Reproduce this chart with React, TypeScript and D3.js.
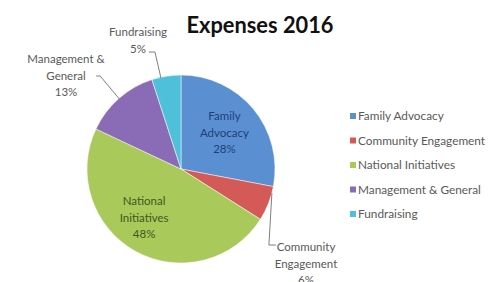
import React, { useEffect, useRef } from 'react';
import * as d3 from 'd3';

const categories = ['Family Advocacy', 'Community Engagement', 'National Initiatives', 'Management & General', 'Fundraising'];
const values = [28, 6, 48, 13, 5];
const colors = ['#5a8fd2', '#d45a58', '#a9c95b', '#8a6cb6', '#4fc0d9'];

// label text lines for each slice
const labelLines = [
  ['Family', 'Advocacy', '28%'],
  ['Community', 'Engagement', '6%'],
  ['National', 'Initiatives', '48%'],
  ['Management &', 'General', '13%'],
  ['Fundraising', '5%'],
];

const App = () => {
  const ref = useRef<SVGSVGElement>(null);

  useEffect(() => {
    const svg = d3.select(ref.current);
    svg.selectAll('*').remove();

    const cx = 181, cy = 169, r = 94;
    const font = 'Lato, "Liberation Sans", sans-serif';

    svg.append('text')
      .attr('x', 260)
      .attr('y', 33)
      .attr('text-anchor', 'middle')
      .attr('font-family', font)
      .attr('font-weight', 'bold')
      .attr('font-size', 22)
      .attr('fill', '#111')
      .attr('textLength', 147)
      .attr('lengthAdjust', 'spacingAndGlyphs')
      .text('Expenses 2016');

    const data = categories.map((c, i) => ({ name: c, value: values[i], i }));
    const pie = d3.pie<any>().value(d => d.value).sort(null);
    const arcs = pie(data);
    const arc = d3.arc<any>().innerRadius(0).outerRadius(r);

    const g = svg.append('g').attr('transform', `translate(${cx},${cy})`);

    g.selectAll('path')
      .data(arcs)
      .enter()
      .append('path')
      .attr('d', arc)
      .attr('fill', d => colors[d.data.i])
      .attr('stroke', '#ffffff')
      .attr('stroke-width', 0.5);

    const polar = (a: number, rr: number) => [rr * Math.sin(a), -rr * Math.cos(a)];
    const mid = (d: any) => (d.startAngle + d.endAngle) / 2;

    const drawLabel = (lines: string[], x: number, y: number, fill: string) => {
      const t = g.append('text')
        .attr('text-anchor', 'middle')
        .attr('font-family', font)
        .attr('font-size', 11.5)
        .attr('fill', fill);
      lines.forEach((l, k) => {
        t.append('tspan').attr('x', x).attr('y', y + k * 16.5).text(l);
      });
    };

    // inside labels
    const [fx, fy] = polar(mid(arcs[0]), r * 0.6);
    drawLabel(labelLines[0], fx, fy - 13, '#1e3f78');
    const [nx, ny] = polar(mid(arcs[2]), r * 0.66);
    drawLabel(labelLines[2], nx - 7, ny - 18, '#3f5a1c');

    // leader lines for outside labels
    const leader = (pts: number[][]) => {
      g.append('path')
        .attr('d', d3.line()(pts as [number, number][]))
        .attr('fill', 'none')
        .attr('stroke', '#7f7f7f')
        .attr('stroke-width', 1);
    };

    const labelGray = '#595959';

    // Community Engagement
    const ce = polar(mid(arcs[1]) - 0.12, r);
    leader([ce, [ce[0] - 3, 76], [ce[0] + 4, 76]]);
    drawLabel(labelLines[1], 125, 82, labelGray);

    // Management & General
    const mg = polar(mid(arcs[3]), r - 2);
    leader([mg, [mg[0] - 20, -93], [mg[0] - 24, -93]]);
    drawLabel(labelLines[3], -115, -106, labelGray);

    // Fundraising
    const fr = polar(mid(arcs[4]) - 0.06, r - 1);
    leader([fr, [fr[0] - 6, -117], [fr[0] - 12, -117]]);
    drawLabel(labelLines[4], -43, -133, labelGray);

    // legend
    const legend = svg.append('g').attr('transform', 'translate(350,120)');
    const item = legend.selectAll('g')
      .data(categories)
      .enter()
      .append('g')
      .attr('transform', (d, i) => `translate(0,${i * 24.5})`);
    item.append('rect')
      .attr('x', 0)
      .attr('y', -7)
      .attr('width', 6)
      .attr('height', 6)
      .attr('fill', (d, i) => colors[i]);
    item.append('text')
      .attr('x', 8)
      .attr('y', 0)
      .attr('font-family', font)
      .attr('font-size', 11.8)
      .attr('fill', labelGray)
      .text(d => d);
  }, []);

  return (
    <svg ref={ref} width={494} height={282} style={{ position: 'absolute', left: 0, top: 0, background: '#fff' }}></svg>
  );
};

export default App;
